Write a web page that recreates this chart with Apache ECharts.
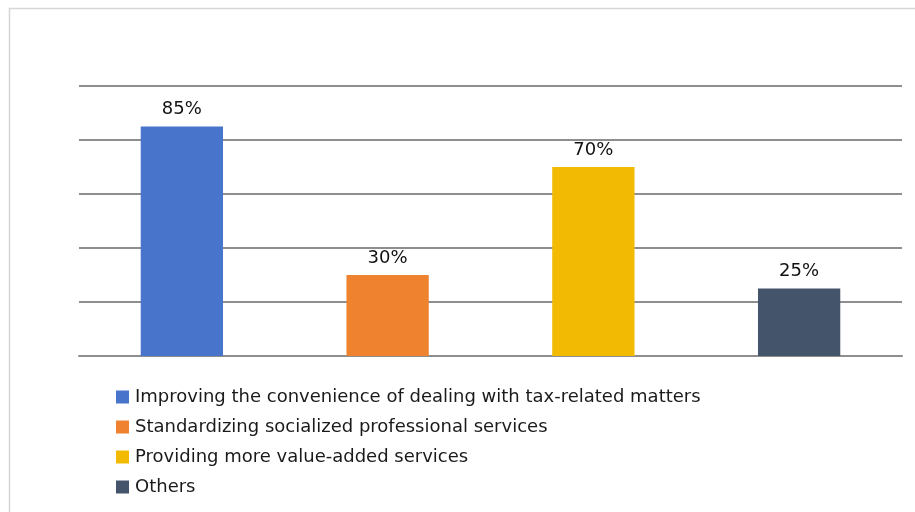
<!DOCTYPE html>
<html>
<head>
<meta charset="utf-8">
<script src="https://cdn.jsdelivr.net/npm/echarts@6/dist/echarts.min.js"></script>
<style>
  html, body { margin: 0; padding: 0; background: #ffffff; }
  #chart { width: 915px; height: 512px; }
</style>
</head>
<body>
<div id="chart"></div>
<script>
// Survey answers and their shares (%)
const categories = [
  'Improving the convenience of dealing with tax-related matters',
  'Standardizing socialized professional services',
  'Providing more value-added services',
  'Others'
];
const values = [85, 30, 70, 25];
const colors = ['#4874CB', '#EE822F', '#F2BA02', '#44546A'];
const yTicks = [0, 20, 40, 60, 80, 100];

const FONT = 'DejaVu Sans, Verdana, sans-serif';

const chart = echarts.init(document.getElementById('chart'));

// One series per answer so each gets its own legend entry;
// stacking keeps every bar centred in its own slot.
const series = categories.map((name, i) => ({
  name: name,
  type: 'bar',
  stack: 'all',
  barWidth: '40%',
  itemStyle: { color: colors[i] },
  data: values.map((v, j) => (j === i ? v : '-')),
  label: {
    show: true,
    position: 'top',
    distance: 8,
    formatter: '{c}%',
    color: '#111',
    fontSize: 18,
    fontFamily: FONT
  }
}));

chart.setOption({
  animation: false,
  backgroundColor: '#ffffff',
  graphic: [{
    type: 'rect',
    shape: { x: 9.5, y: 8.5, width: 1000, height: 1000 },
    style: { fill: 'none', stroke: '#d6d6d6', lineWidth: 1.5 },
    silent: true
  }],
  grid: { left: 79, right: 13, top: 86, bottom: 156 },
  legend: {
    orient: 'vertical',
    left: 111,
    top: 382,
    itemWidth: 13,
    itemHeight: 13,
    itemGap: 10,
    icon: 'rect',
    textStyle: {
      fontSize: 18,
      lineHeight: 20,
      color: '#1a1a1a',
      fontFamily: FONT,
      padding: [0, 0, 0, 1]
    },
    data: categories
  },
  xAxis: {
    type: 'category',
    data: categories,
    axisLine: { show: true, lineStyle: { color: '#8e8e8e', width: 2 } },
    axisTick: { show: false },
    axisLabel: { show: false }
  },
  yAxis: {
    type: 'value',
    min: yTicks[0],
    max: yTicks[yTicks.length - 1],
    interval: 20,
    axisLine: { show: false },
    axisTick: { show: false },
    axisLabel: { show: false },
    splitLine: { lineStyle: { color: '#8e8e8e', width: 2 } }
  },
  series: series
});
</script>
</body>
</html>
